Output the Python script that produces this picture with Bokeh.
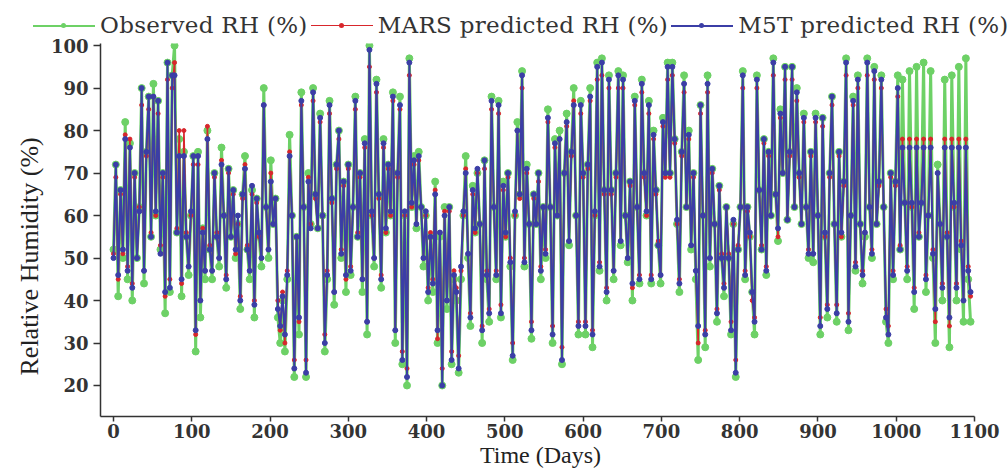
from bokeh.plotting import figure
from bokeh.layouts import column
from bokeh.models import Range1d, FixedTicker, Title, Div
from bokeh.embed import file_html
from bokeh.resources import INLINE

days = list(range(0, 1096, 3))

observed = [
    52, 72, 41, 66, 50, 82, 45, 77, 40, 70, 50, 62, 90, 44, 75, 88, 55, 91, 60, 87,
    52, 70, 37, 96, 42, 93, 100, 56, 78, 41, 75, 55, 46, 60, 74, 28, 75, 36, 57, 45,
    80, 52, 45, 70, 55, 48, 76, 60, 43, 71, 55, 66, 50, 58, 38, 65, 74, 52, 45, 66,
    36, 64, 55, 48, 90, 62, 50, 73, 58, 64, 36, 30, 40, 28, 45, 79, 60, 22, 55, 32,
    89, 62, 22, 70, 58, 90, 65, 57, 84, 60, 28, 45, 87, 64, 39, 72, 80, 50, 68, 42,
    72, 46, 62, 88, 55, 70, 42, 78, 32, 100, 60, 48, 92, 65, 43, 78, 56, 72, 60, 89,
    30, 70, 88, 25, 60, 20, 97, 62, 74, 57, 75, 62, 48, 60, 40, 55, 42, 68, 30, 55,
    20, 62, 38, 62, 25, 45, 40, 23, 45, 60, 74, 50, 34, 67, 56, 70, 58, 30, 73, 45,
    35, 88, 62, 45, 87, 36, 68, 55, 70, 48, 26, 60, 82, 65, 94, 48, 72, 58, 31, 65,
    58, 70, 45, 62, 50, 85, 62, 30, 78, 60, 80, 25, 70, 84, 53, 75, 90, 60, 32, 87,
    70, 32, 72, 90, 29, 60, 96, 47, 97, 66, 40, 93, 66, 45, 70, 94, 53, 93, 60, 49,
    68, 40, 88, 62, 44, 92, 70, 60, 87, 44, 80, 66, 53, 44, 83, 70, 96, 70, 96, 78,
    58, 42, 75, 93, 62, 80, 52, 70, 45, 26, 86, 60, 29, 93, 48, 71, 58, 35, 67, 50,
    41, 62, 50, 32, 58, 22, 52, 62, 94, 45, 62, 55, 42, 32, 93, 66, 52, 78, 46, 75,
    60, 97, 65, 54, 85, 70, 95, 59, 75, 95, 62, 90, 70, 58, 84, 62, 50, 75, 49, 84,
    60, 32, 83, 55, 36, 70, 88, 58, 35, 75, 55, 68, 97, 33, 60, 88, 47, 93, 58, 44,
    55, 97, 62, 50, 95, 58, 68, 93, 62, 35, 30, 70, 45, 68, 93, 52, 92, 63, 45, 94,
    62, 38, 95, 55, 63, 96, 42, 60, 94, 50, 30, 72, 58, 40, 92, 55, 29, 93, 62, 40,
    95, 52, 35, 97, 45, 35,
]

mars = [
    51, 69, 45, 65, 51, 79, 48, 78, 44, 69, 50, 62, 86, 47, 74, 85, 56, 88, 60, 84,
    53, 69, 41, 92, 45, 90, 96, 57, 80, 44, 80, 56, 48, 60, 72, 32, 72, 40, 57, 47,
    81, 53, 47, 69, 56, 50, 73, 60, 46, 70, 55, 65, 51, 58, 41, 64, 72, 53, 47, 65,
    40, 63, 55, 50, 86, 62, 52, 70, 58, 64, 40, 33, 42, 30, 47, 75, 60, 26, 55, 35,
    86, 62, 26, 69, 58, 87, 64, 57, 82, 60, 32, 47, 84, 63, 42, 71, 78, 52, 67, 45,
    71, 48, 62, 85, 56, 69, 45, 76, 35, 95, 60, 50, 89, 64, 46, 76, 56, 71, 60, 87,
    33, 69, 85, 28, 60, 24, 93, 62, 72, 58, 73, 62, 50, 60, 43, 56, 45, 66, 31, 56,
    24, 61, 40, 61, 28, 47, 43, 27, 47, 60, 71, 51, 37, 65, 56, 70, 58, 34, 71, 47,
    38, 85, 62, 47, 84, 39, 66, 55, 69, 50, 30, 60, 80, 64, 90, 50, 70, 58, 35, 64,
    58, 68, 48, 62, 52, 82, 62, 34, 76, 60, 78, 29, 70, 81, 54, 74, 87, 60, 35, 84,
    69, 35, 71, 87, 33, 60, 92, 49, 93, 65, 43, 90, 65, 47, 69, 90, 54, 90, 60, 50,
    67, 43, 86, 62, 46, 89, 69, 60, 84, 46, 78, 65, 54, 46, 81, 69, 92, 69, 93, 77,
    58, 45, 74, 89, 62, 78, 53, 69, 47, 30, 84, 60, 33, 89, 50, 70, 58, 38, 66, 51,
    44, 62, 51, 35, 58, 26, 53, 62, 90, 47, 61, 55, 40, 36, 90, 66, 53, 77, 48, 74,
    60, 93, 65, 55, 83, 70, 92, 59, 74, 92, 62, 87, 69, 58, 82, 62, 52, 74, 51, 82,
    60, 36, 81, 55, 39, 69, 86, 58, 39, 74, 55, 67, 93, 37, 60, 86, 49, 90, 58, 47,
    56, 93, 62, 52, 92, 58, 67, 90, 62, 38, 34, 69, 47, 67, 88, 53, 78, 63, 48, 78,
    62, 43, 78, 56, 63, 78, 46, 60, 78, 52, 35, 70, 58, 44, 78, 56, 34, 78, 62, 44,
    78, 54, 40, 78, 48, 41,
]

m5t = [
    50, 72, 46, 66, 52, 78, 47, 76, 43, 70, 50, 61, 90, 47, 75, 88, 55, 88, 61, 87,
    51, 70, 42, 96, 43, 93, 93, 56, 74, 45, 74, 55, 48, 61, 74, 33, 74, 40, 56, 47,
    78, 52, 47, 70, 55, 50, 72, 60, 45, 71, 55, 66, 52, 60, 40, 65, 71, 52, 47, 67,
    39, 64, 56, 50, 86, 62, 52, 68, 58, 64, 38, 34, 41, 32, 46, 74, 60, 24, 55, 36,
    87, 62, 23, 68, 57, 89, 65, 57, 83, 60, 30, 46, 86, 64, 42, 72, 80, 51, 68, 46,
    72, 47, 62, 87, 55, 70, 45, 77, 35, 99, 61, 50, 91, 65, 45, 77, 57, 72, 61, 88,
    33, 70, 86, 26, 61, 22, 96, 63, 73, 58, 74, 62, 50, 61, 42, 55, 44, 65, 33, 56,
    20, 60, 40, 62, 26, 46, 42, 24, 48, 61, 70, 51, 36, 66, 57, 71, 58, 33, 73, 46,
    37, 87, 62, 46, 86, 37, 67, 56, 70, 49, 27, 61, 80, 65, 93, 49, 71, 58, 33, 65,
    58, 70, 47, 62, 51, 83, 62, 32, 77, 60, 78, 26, 70, 82, 54, 75, 86, 60, 34, 86,
    70, 34, 72, 88, 32, 61, 95, 48, 96, 66, 42, 92, 66, 47, 70, 93, 54, 92, 60, 50,
    68, 44, 87, 62, 45, 91, 70, 61, 86, 45, 79, 66, 53, 46, 82, 70, 95, 70, 95, 78,
    59, 44, 75, 91, 62, 79, 53, 70, 47, 34, 86, 60, 32, 91, 50, 71, 58, 37, 67, 50,
    43, 62, 50, 33, 59, 23, 52, 62, 93, 46, 62, 56, 42, 35, 92, 66, 52, 78, 47, 75,
    60, 96, 65, 57, 84, 70, 95, 59, 75, 95, 62, 89, 70, 58, 83, 62, 51, 75, 51, 83,
    60, 34, 83, 56, 38, 70, 88, 58, 37, 75, 56, 68, 96, 35, 60, 87, 48, 92, 58, 46,
    56, 96, 62, 51, 94, 58, 68, 92, 62, 36, 32, 70, 46, 68, 90, 52, 76, 63, 47, 76,
    63, 42, 76, 55, 63, 76, 45, 60, 76, 51, 38, 70, 58, 43, 76, 55, 36, 76, 63, 43,
    76, 53, 40, 76, 47, 42,
]

assert len(observed) == len(days), len(observed)
assert len(mars) == len(days), len(mars)
assert len(m5t) == len(days), len(m5t)

x_ticks = [0, 100, 200, 300, 400, 500, 600, 700, 800, 900, 1000, 1100]
y_ticks = [20, 30, 40, 50, 60, 70, 80, 90, 100]
labels = ["Observed RH (%)", "MARS predicted RH (%)", "M5T predicted RH (%)"]

GREEN = "#6dd166"
RED = "#d8262c"
BLUE = "#3b3ea6"
STYLES = [(GREEN, 3, 7), (RED, 1.6, 4), (BLUE, 2, 5)]
SERIES = [observed, mars, m5t]

LEG_H = 37   # height of the legend row
TOP = 6      # space inside the chart above its frame (frame top at 43)

# ---- main chart ----
p = figure(width=1004, height=470 - LEG_H, output_backend="svg",
           toolbar_location=None,
           x_range=Range1d(-16.6, 1107.7), y_range=Range1d(12.7, 100.5),
           min_border_left=100, min_border_right=24, min_border_top=TOP,
           min_border_bottom=54)
p.outline_line_color = None
p.grid.visible = False

for ys, (col, lw, ms) in zip(SERIES, STYLES):
    p.line(days, ys, line_color=col, line_width=lw)
    p.scatter(days, ys, size=ms, fill_color=col, line_color=col)

for ax in (p.xaxis[0], p.yaxis[0]):
    ax.axis_line_color = "#333333"
    ax.axis_line_width = 1.5
    ax.major_tick_line_color = "#333333"
    ax.major_tick_line_width = 1.5
    ax.major_tick_in = 0
    ax.minor_tick_line_color = None
    ax.major_label_text_font = "DejaVu Serif"
    ax.major_label_text_font_style = "bold"
    ax.major_label_text_font_size = "18px"
    ax.major_label_text_color = "#333333"
    ax.axis_label_text_font = "Liberation Serif"
    ax.axis_label_text_font_style = "normal"
    ax.axis_label_text_color = "#222222"

p.xaxis[0].ticker = FixedTicker(ticks=x_ticks)
p.yaxis[0].ticker = FixedTicker(ticks=y_ticks)
p.xaxis[0].bounds = (-16.6, 1100)
p.xaxis[0].axis_label = "Time (Days)"
p.xaxis[0].major_tick_out = 5
p.xaxis[0].major_label_standoff = 2
p.xaxis[0].axis_label_standoff = 1
p.xaxis[0].axis_label_text_font_size = "24px"
p.yaxis[0].major_tick_out = 7
p.yaxis[0].major_label_standoff = 5

ylab = Title(text="Relative Humidity (%)", align="left", offset=41,
             text_font="Liberation Serif", text_font_style="normal",
             text_font_size="26px", text_color="#222222", standoff=7)
p.add_layout(ylab, "left")

# ---- legend row (HTML) ----
def swatch(col, lw):
    return (
        f'<span style="display:inline-block;position:relative;width:62px;'
        f'height:{lw}px;background:{col};margin-right:5px;vertical-align:middle;">'
        f'<span style="position:absolute;left:28px;top:{(lw - 5) / 2}px;width:5px;'
        f'height:5px;border-radius:50%;background:{col};"></span></span>'
    )

parts = []
for lab, (col, lw, ms) in zip(labels, STYLES):
    parts.append(
        f'<span style="display:inline-flex;align-items:center;margin-right:3px;">'
        f'{swatch(col, min(lw, 2))}<span>{lab}</span></span>'
    )
html = (
    '<div style="box-sizing:border-box;height:%dpx;padding-top:14px;'
    'padding-left:33px;display:flex;align-items:center;white-space:nowrap;'
    'font-family:\'DejaVu Serif\';font-size:23px;letter-spacing:0.3px;'
    'color:#333333;">%s</div>' % (LEG_H, "".join(parts))
)
leg = Div(text=html, width=1004, height=LEG_H, margin=(0, 0, 0, 0))

layout = column(leg, p, spacing=0)
open("out.html", "w").write(file_html(layout, INLINE))
